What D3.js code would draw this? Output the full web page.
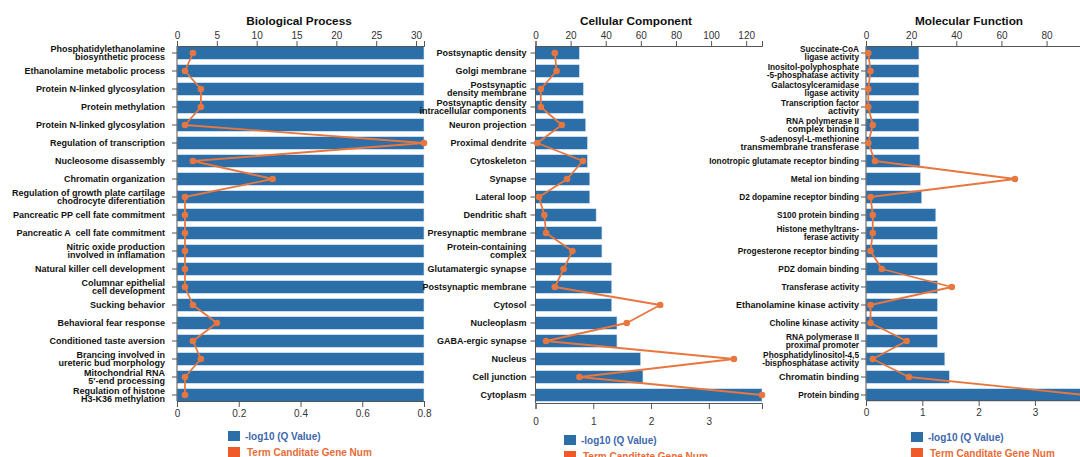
<!DOCTYPE html>
<html>
<head>
<meta charset="utf-8">
<script src="https://cdn.jsdelivr.net/npm/d3@7"></script>
<style>
  body { margin: 0; background: #fff; }
  svg { display: block; }
  text { font-family: "Liberation Sans", Arial, Helvetica, sans-serif; white-space: pre; }
</style>
</head>
<body>
<svg id="chart" width="1080" height="457"></svg>
<script>
// ---- Biological Process ----
const bpTerms = [
  "Phosphatidylethanolamine\nbiosynthetic process",
  "Ethanolamine metabolic process",
  "Protein N-linked glycosylation",
  "Protein methylation",
  "Protein N-linked glycosylation",
  "Regulation of transcription",
  "Nucleosome disassembly",
  "Chromatin organization",
  "Regulation of growth plate cartilage\nchodrocyte diferentiation",
  "Pancreatic PP cell fate commitment",
  "Pancreatic A  cell fate commitment",
  "Nitric oxide production\ninvolved in inflamation",
  "Natural killer cell development",
  "Columnar epithelial\ncell development",
  "Sucking behavior",
  "Behavioral fear response",
  "Conditioned taste aversion",
  "Brancing involved in\nureteric bud morphology",
  "Mitochondrial RNA\n5\u2032-end processing",
  "Regulation of histone\nH3-K36 methylation"
];
const bpLogQ = [0.8, 0.8, 0.8, 0.8, 0.8, 0.8, 0.8, 0.8, 0.8, 0.8,
                0.8, 0.8, 0.8, 0.8, 0.8, 0.8, 0.8, 0.8, 0.8, 0.8];
const bpGenes = [2, 1, 3, 3, 1, 31, 2, 12, 1, 1, 1, 1, 1, 1, 2, 5, 2, 3, 1, 1];
const bpQTicks = [0, 0.2, 0.4, 0.6, 0.8];
const bpGeneTicks = [0, 5, 10, 15, 20, 25, 30];

// ---- Cellular Component ----
const ccTerms = [
  "Postsynaptic density",
  "Golgi membrane",
  "Postsynaptic\ndensity membrane",
  "Postsynaptic density\nintracellular components",
  "Neuron projection",
  "Proximal dendrite",
  "Cytoskeleton",
  "Synapse",
  "Lateral loop",
  "Dendritic shaft",
  "Presynaptic membrane",
  "Protein-containing\ncomplex",
  "Glutamatergic synapse",
  "Postsynaptic membrane",
  "Cytosol",
  "Nucleoplasm",
  "GABA-ergic synapse",
  "Nucleus",
  "Cell junction",
  "Cytoplasm"
];
const ccLogQ = [0.76, 0.76, 0.83, 0.83, 0.87, 0.90, 0.90, 0.94, 0.94, 1.05,
                1.15, 1.15, 1.32, 1.32, 1.32, 1.41, 1.41, 1.82, 1.86, 3.92];
const ccGenes = [11, 12, 3, 3, 15, 1, 27, 18, 2, 5, 6, 21, 16, 11, 71, 52, 6, 113, 25, 129];
const ccQTicks = [0, 1, 2, 3];
const ccGeneTicks = [0, 20, 40, 60, 80, 100, 120];

// ---- Molecular Function ----
const mfTerms = [
  "Succinate-CoA\nligase activity",
  "Inositol-polyphosphate\n-5-phosphatase activity",
  "Galactosylceramidase\nligase activity",
  "Transcription factor\nactivity",
  "RNA polymerase II\ncomplex binding",
  "S-adenosyl-L-methionine\ntransmembrane transferase",
  "Ionotropic glutamate receptor binding",
  "Metal ion binding",
  "D2 dopamine receptor binding",
  "S100 protein binding",
  "Histone methyltrans-\nferase activity",
  "Progesterone receptor binding",
  "PDZ domain binding",
  "Transferase activity",
  "Ethanolamine kinase activity",
  "Choline kinase activity",
  "RNA polymerase II\nproximal promoter",
  "Phosphatidylinositol-4,5\n-bisphosphatase activity",
  "Chromatin binding",
  "Protein binding"
];
const mfLogQ = [0.94, 0.94, 0.94, 0.94, 0.94, 0.94, 0.96, 0.97, 0.99, 1.24,
                1.27, 1.27, 1.27, 1.27, 1.27, 1.27, 1.27, 1.40, 1.48, 4.0];
const mfGenes = [1, 2, 1, 1, 3, 1, 4, 66, 2, 3, 3, 2, 7, 38, 2, 2, 18, 3, 19, 97];
const mfQTicks = [0, 1, 2, 3];
const mfGeneTicks = [0, 20, 40, 60, 80];

const legendLabels = ["-log10 (Q Value)", "Term Canditate Gene Num"];

// ---- styling ----
const BAR = "#2c6ea8";
const LINE = "#e8773f";
const LEGEND_ORANGE = "#f05a28";
const AXIS = "#555";
const TICK_TEXT = "#333";

// lines drawn a little larger in the molecular-function labels
const largeLines = new Set(["activity", "complex binding", "transmembrane transferase",
  "Ethanolamine kinase activity", "Chromatin binding"]);

const svg = d3.select("#chart");

const panels = [
  { title: "Biological Process", terms: bpTerms, q: bpLogQ, genes: bpGenes,
    qTicks: bpQTicks, geneTicks: bpGeneTicks, qFmt: d3.format(".1~f"),
    left: 177, right: 424, qMax: 0.8, geneMax: 31,
    bottomY: 401, bottomPad: 3, labelGap: 12, labelSize: 9, lineHeight: 8.5,
    titleX: 299, legendX: 228, legendY: 431 },
  { title: "Cellular Component", terms: ccTerms, q: ccLogQ, genes: ccGenes,
    qTicks: ccQTicks, geneTicks: ccGeneTicks, qFmt: d3.format("d"),
    left: 535.5, right: 762, qMax: 3.92, geneMax: 129,
    bottomY: 403, bottomPad: 9, labelGap: 9, labelSize: 9, lineHeight: 8.5,
    titleX: 636, legendX: 564, legendY: 435 },
  { title: "Molecular Function", terms: mfTerms, q: mfLogQ, genes: mfGenes,
    qTicks: mfQTicks, geneTicks: mfGeneTicks, qFmt: d3.format("d"),
    left: 866, right: 1080, qMax: 3.8, geneMax: 94.8,
    bottomY: 400, bottomPad: 3, labelGap: 7, labelSize: 8.3, largeSize: 9, lineHeight: 8.5,
    titleX: 969, legendX: 911, legendY: 432 }
];

const TOP_Y = 46;

panels.forEach(p => {
  const g = svg.append("g");
  const idx = d3.range(p.terms.length);

  const y = d3.scaleBand().domain(idx).range([44, 404])
    .paddingInner(0.3).paddingOuter(0.15);
  const xQ = d3.scaleLinear().domain([0, p.qMax]).range([p.left, p.right]);
  const xG = d3.scaleLinear().domain([0, p.geneMax]).range([p.left, p.right]);

  // bars: -log10(Q)
  g.append("g").selectAll("rect").data(idx).join("rect")
    .attr("x", xQ(0))
    .attr("y", i => y(i))
    .attr("width", i => xQ(p.q[i]) - xQ(0))
    .attr("height", y.bandwidth())
    .attr("fill", BAR)
    .attr("stroke", "#d3e3f1")
    .attr("stroke-width", 0.6);

  // top axis: gene counts
  const top = g.append("g").attr("transform", `translate(0,${TOP_Y})`)
    .call(d3.axisTop(xG).tickValues(p.geneTicks).tickSize(5).tickPadding(2).tickSizeOuter(5));
  // bottom axis: -log10(Q)
  const bottom = g.append("g").attr("transform", `translate(0,${p.bottomY})`)
    .call(d3.axisBottom(xQ).tickValues(p.qTicks).tickFormat(p.qFmt)
      .tickSize(6).tickPadding(p.bottomPad).tickSizeOuter(6));
  [top, bottom].forEach(a => {
    a.attr("font-family", null).attr("font-size", null);
    a.selectAll("path, line").attr("stroke", AXIS);
    a.selectAll("text").attr("fill", TICK_TEXT).style("font-size", "10px");
  });

  // left axis with the term names
  const leftAx = g.append("g").attr("transform", `translate(${p.left},0)`)
    .call(d3.axisLeft(y).tickSize(5).tickPadding(p.labelGap - 5).tickSizeOuter(0));
  leftAx.attr("font-family", null).attr("font-size", null);
  leftAx.select(".domain").remove();
  leftAx.selectAll("line").attr("stroke", AXIS);
  leftAx.append("line")
    .attr("x1", 0).attr("x2", 0).attr("y1", TOP_Y).attr("y2", p.bottomY)
    .attr("stroke", AXIS);
  const lh = p.lineHeight;
  leftAx.selectAll(".tick text").each(function (i) {
    const t = d3.select(this);
    const x = t.attr("x");
    const lines = p.terms[i].split("\n");
    t.text(null).attr("dy", null)
      .attr("fill", "#111").attr("font-weight", "bold");
    lines.forEach((ln, k) => {
      const size = (p.largeSize && largeLines.has(ln)) ? p.largeSize : p.labelSize;
      t.append("tspan")
        .attr("x", x)
        .attr("y", 3 + (k - (lines.length - 1) / 2) * lh)
        .style("font-size", size + "px")
        .text(ln);
    });
  });

  // gene-count line with markers
  const line = d3.line().x(i => xG(p.genes[i])).y(i => y(i) + y.bandwidth() / 2);
  g.append("path").datum(idx)
    .attr("d", line).attr("fill", "none")
    .attr("stroke", LINE).attr("stroke-width", 1.8).attr("stroke-linejoin", "round");
  g.append("g").selectAll("circle").data(idx).join("circle")
    .attr("cx", i => xG(p.genes[i]))
    .attr("cy", i => y(i) + y.bandwidth() / 2)
    .attr("r", 3.3)
    .attr("fill", LINE);

  // title
  g.append("text")
    .attr("x", p.titleX).attr("y", 25)
    .attr("text-anchor", "middle")
    .attr("font-weight", "bold")
    .style("font-size", "11.8px")
    .attr("fill", "#111")
    .text(p.title);

  // legend
  const leg = g.append("g").attr("transform", `translate(${p.legendX},${p.legendY})`);
  const legColors = [BAR, LEGEND_ORANGE];
  const legText = ["#3b67ad", "#e66c37"];
  legendLabels.forEach((lab, k) => {
    leg.append("rect").attr("x", 0).attr("y", k * 16).attr("width", 12).attr("height", 10)
      .attr("fill", legColors[k]);
    leg.append("text").attr("x", 17 + k * 2).attr("y", k * 16 + 8.6)
      .attr("font-weight", "bold").style("font-size", "10px")
      .attr("fill", legText[k]).text(lab);
  });
});
</script>
</body>
</html>
